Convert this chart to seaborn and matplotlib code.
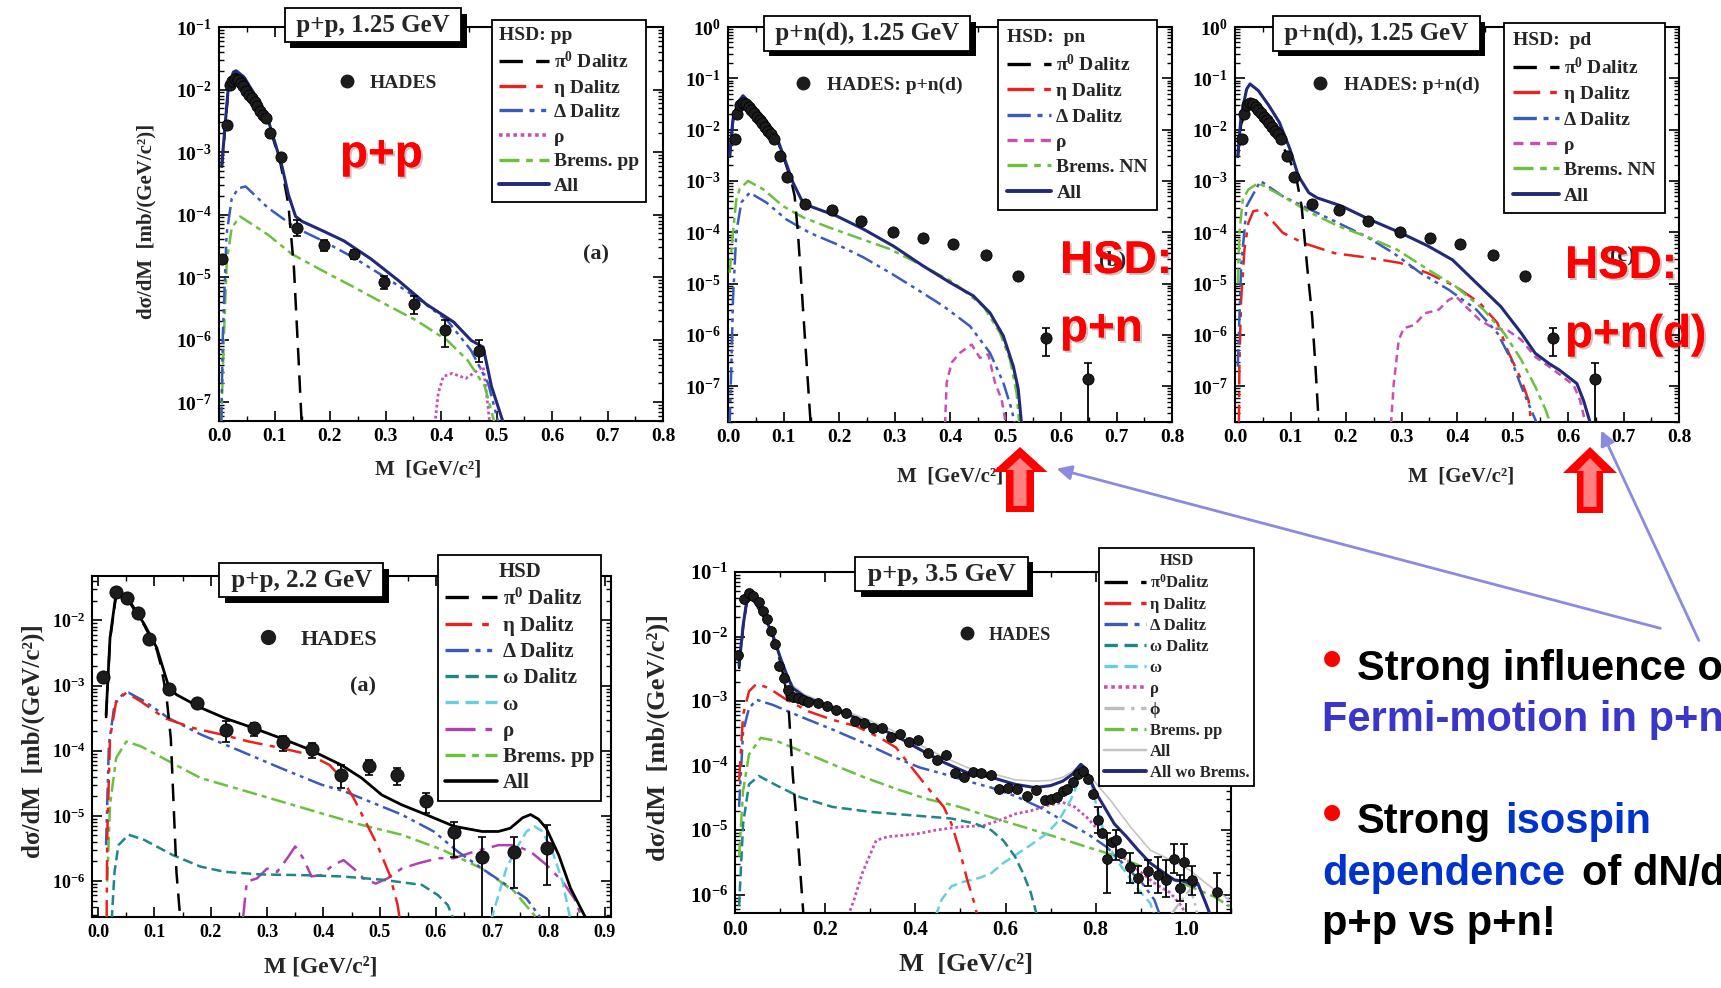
import numpy as np
import matplotlib
matplotlib.use("Agg")
import matplotlib.pyplot as plt
import matplotlib.patheffects as pe
from matplotlib.lines import Line2D
from matplotlib.patches import Polygon, FancyArrowPatch
from matplotlib.ticker import MultipleLocator, LogLocator, NullFormatter, FormatStrFormatter
import seaborn as sns

# ---------------- data (x in GeV/c^2, y given as log10 of dsigma/dM) ----------------
# Panel 1: p+p 1.25 GeV
p1_data_x = [0.006, 0.0136, 0.019, 0.024, 0.029, 0.034, 0.039, 0.044, 0.049, 0.054, 0.059, 0.064, 0.069,
             0.074, 0.079, 0.085, 0.091, 0.111, 0.141, 0.189, 0.243, 0.298, 0.352, 0.407, 0.468]
p1_data_ly = [-4.71, -2.56, -1.92, -1.86, -1.83, -1.85, -1.90, -1.95, -2.02, -2.08, -2.14, -2.20, -2.27,
              -2.34, -2.40, -2.46, -2.70, -3.08, -4.21, -4.48, -4.63, -5.08, -5.43, -5.85, -6.18]
p1_err_x = [0.141, 0.189, 0.243, 0.298, 0.352, 0.407, 0.468]
p1_err_lo = [-4.34, -4.58, -4.71, -5.19, -5.59, -6.12, -6.35]
p1_err_hi = [-4.08, -4.40, -4.56, -4.98, -5.30, -5.69, -6.01]
p1_all_x = [0.005, 0.011, 0.017, 0.026, 0.031, 0.045, 0.069, 0.088, 0.113, 0.125, 0.138, 0.150, 0.187, 0.225,
            0.274, 0.324, 0.373, 0.423, 0.454, 0.476, 0.491, 0.513]
p1_all_ly = [-3.21, -2.57, -1.94, -1.72, -1.70, -1.80, -2.15, -2.47, -3.21, -3.68, -4.03, -4.11, -4.26, -4.42,
             -4.71, -5.06, -5.43, -5.72, -6.01, -6.12, -6.75, -7.35]
p1_pi0_x = [0.005, 0.011, 0.017, 0.026, 0.031, 0.045, 0.069, 0.088, 0.110, 0.118, 0.125, 0.135, 0.144, 0.149]
p1_pi0_ly = [-3.25, -2.62, -1.98, -1.76, -1.74, -1.84, -2.19, -2.51, -3.15, -3.50, -3.84, -4.85, -6.43, -7.35]
p1_delta_x = [0.004, 0.007, 0.0136, 0.023, 0.035, 0.048, 0.088, 0.138, 0.187, 0.243, 0.299, 0.355, 0.411,
              0.454, 0.485, 0.504]
p1_delta_ly = [-7.35, -5.90, -4.32, -3.74, -3.58, -3.55, -3.89, -4.21, -4.42, -4.69, -5.00, -5.32, -5.69,
               -6.17, -6.70, -7.35]
p1_brems_x = [0.004, 0.009, 0.014, 0.023, 0.038, 0.088, 0.131, 0.187, 0.243, 0.299, 0.355, 0.411, 0.448,
              0.479, 0.497]
p1_brems_ly = [-7.35, -5.90, -4.74, -4.21, -4.03, -4.32, -4.63, -4.90, -5.16, -5.43, -5.69, -6.01, -6.33,
               -6.75, -7.35]
p1_rho_x = [0.389, 0.395, 0.404, 0.420, 0.445, 0.466, 0.476, 0.482, 0.488]
p1_rho_ly = [-7.35, -6.86, -6.59, -6.54, -6.62, -6.49, -6.43, -6.86, -7.35]

# Panels 2 and 3: p+n(d) 1.25 GeV (same HADES data)
pn_data_x = [0.012, 0.017, 0.022, 0.027, 0.032, 0.037, 0.042, 0.047, 0.052, 0.057, 0.062, 0.067, 0.072,
             0.077, 0.083, 0.093, 0.107, 0.139, 0.187, 0.240, 0.297, 0.352, 0.406, 0.465, 0.523, 0.573, 0.648]
pn_data_ly = [-2.18, -1.70, -1.52, -1.48, -1.50, -1.55, -1.61, -1.68, -1.75, -1.82, -1.88, -1.95, -2.02,
              -2.09, -2.18, -2.51, -2.93, -3.45, -3.56, -3.78, -3.99, -4.12, -4.22, -4.44, -4.85, -6.06, -6.86]
pn_err_x = [0.573, 0.648]
pn_err_lo = [-6.41, -7.80]
pn_err_hi = [-5.86, -6.54]

p2_all_x = [0.003, 0.009, 0.018, 0.027, 0.045, 0.069, 0.087, 0.102, 0.117, 0.132, 0.147, 0.195, 0.244, 0.298,
            0.352, 0.400, 0.442, 0.472, 0.496, 0.514, 0.523, 0.529]
p2_all_ly = [-2.51, -1.79, -1.47, -1.34, -1.53, -1.83, -2.12, -2.57, -3.03, -3.36, -3.49, -3.68, -3.94, -4.27,
             -4.66, -4.98, -5.24, -5.57, -6.02, -6.61, -7.06, -7.75]
p2_pi0_x = [0.003, 0.009, 0.018, 0.027, 0.045, 0.069, 0.087, 0.102, 0.114, 0.120, 0.126, 0.132, 0.138, 0.144, 0.149]
p2_pi0_ly = [-2.55, -1.83, -1.50, -1.37, -1.56, -1.86, -2.15, -2.60, -3.00, -3.29, -4.01, -4.98, -5.96, -6.93, -7.75]
p2_brems_x = [0.003, 0.009, 0.015, 0.021, 0.036, 0.063, 0.099, 0.135, 0.183, 0.232, 0.292, 0.352, 0.406, 0.460,
              0.490, 0.508, 0.520, 0.525]
p2_brems_ly = [-4.79, -4.00, -3.36, -3.16, -3.00, -3.16, -3.49, -3.71, -3.91, -4.10, -4.33, -4.66, -4.98, -5.44,
               -5.96, -6.48, -7.13, -7.75]
p2_delta_x = [0.003, 0.006, 0.009, 0.015, 0.024, 0.039, 0.069, 0.105, 0.147, 0.195, 0.244, 0.292, 0.340, 0.388,
              0.436, 0.472, 0.496, 0.511, 0.517]
p2_delta_ly = [-7.75, -6.61, -5.31, -4.00, -3.42, -3.23, -3.42, -3.75, -4.01, -4.23, -4.49, -4.79, -5.11, -5.44,
               -5.83, -6.35, -6.93, -7.45, -7.75]
p2_rho_x = [0.391, 0.394, 0.403, 0.418, 0.439, 0.454, 0.469, 0.481, 0.493, 0.501]
p2_rho_ly = [-7.75, -6.93, -6.54, -6.35, -6.19, -6.45, -6.38, -6.93, -7.26, -7.75]

p3_all_x = [0.005, 0.011, 0.021, 0.027, 0.042, 0.061, 0.080, 0.099, 0.114, 0.133, 0.148, 0.192, 0.242, 0.298,
            0.348, 0.392, 0.435, 0.479, 0.516, 0.541, 0.566, 0.585, 0.616, 0.628, 0.641]
p3_all_ly = [-2.51, -1.73, -1.21, -1.11, -1.24, -1.53, -1.86, -2.38, -2.90, -3.23, -3.33, -3.49, -3.75, -4.01,
             -4.27, -4.54, -4.99, -5.45, -5.97, -6.36, -6.56, -6.69, -6.95, -7.28, -7.75]
p3_pi0_x = [0.005, 0.011, 0.021, 0.027, 0.042, 0.061, 0.080, 0.099, 0.111, 0.120, 0.130, 0.139, 0.145, 0.151]
p3_pi0_ly = [-2.55, -1.90, -1.60, -1.55, -1.65, -1.88, -2.20, -2.60, -2.97, -3.49, -4.67, -5.64, -6.62, -7.75]
p3_eta_x = [0.007, 0.008, 0.011, 0.017, 0.024, 0.033, 0.049, 0.086, 0.123, 0.180, 0.242, 0.298, 0.348, 0.398,
            0.441, 0.473, 0.491, 0.516, 0.529, 0.534]
p3_eta_ly = [-7.75, -6.50, -5.32, -4.34, -3.82, -3.59, -3.56, -4.01, -4.21, -4.41, -4.50, -4.60, -4.80, -5.06,
             -5.38, -5.77, -6.30, -6.88, -7.28, -7.75]
p3_delta_x = [0.005, 0.011, 0.021, 0.046, 0.086, 0.136, 0.186, 0.236, 0.286, 0.335, 0.385, 0.435, 0.473, 0.498,
              0.516, 0.529, 0.545]
p3_delta_ly = [-6.62, -4.67, -3.49, -3.00, -3.30, -3.56, -3.82, -4.08, -4.41, -4.80, -5.12, -5.51, -5.97, -6.49,
               -7.01, -7.35, -7.75]
p3_brems_x = [0.005, 0.008, 0.014, 0.024, 0.042, 0.086, 0.136, 0.186, 0.236, 0.292, 0.348, 0.398, 0.448, 0.485,
              0.516, 0.541, 0.560, 0.569]
p3_brems_ly = [-5.00, -4.01, -3.36, -3.17, -3.04, -3.30, -3.62, -3.88, -4.08, -4.34, -4.73, -5.06, -5.51, -5.97,
               -6.49, -7.01, -7.47, -7.75]
p3_rho_x = [0.281, 0.286, 0.295, 0.304, 0.323, 0.342, 0.367, 0.385, 0.398, 0.416, 0.441, 0.466, 0.491, 0.516,
            0.541, 0.566, 0.591, 0.610, 0.622, 0.632]
p3_rho_ly = [-7.75, -6.95, -6.10, -5.87, -5.81, -5.58, -5.51, -5.32, -5.25, -5.45, -5.71, -5.87, -5.91, -6.10,
             -6.43, -6.62, -6.82, -6.98, -7.28, -7.75]

# Panel 4: p+p 2.2 GeV
p4_data_x = [0.009, 0.031, 0.052, 0.070, 0.091, 0.126, 0.176, 0.227, 0.277, 0.329, 0.379, 0.431, 0.481, 0.531,
             0.582, 0.632, 0.682, 0.738, 0.798]
p4_data_ly = [-2.87, -1.56, -1.65, -1.88, -2.28, -3.06, -3.27, -3.69, -3.65, -3.87, -3.97, -4.37, -4.24, -4.38,
              -4.78, -5.25, -5.63, -5.55, -5.50]
p4_err_x = [0.227, 0.277, 0.329, 0.379, 0.431, 0.481, 0.531, 0.582, 0.632, 0.682, 0.738, 0.798]
p4_err_lo = [-3.86, -3.78, -4.01, -4.11, -4.57, -4.37, -4.52, -4.96, -5.63, -6.60, -6.11, -6.06]
p4_err_hi = [-3.55, -3.57, -3.78, -3.88, -4.22, -4.14, -4.27, -4.65, -5.09, -5.32, -5.32, -5.14]
p4_all_x = [0.014, 0.021, 0.032, 0.054, 0.082, 0.104, 0.125, 0.139, 0.182, 0.225, 0.275, 0.325, 0.375, 0.432,
            0.468, 0.504, 0.539, 0.582, 0.632, 0.682, 0.711, 0.732, 0.754, 0.768, 0.782, 0.796, 0.818, 0.839, 0.868]
p4_all_ly = [-3.45, -2.27, -1.57, -1.68, -2.06, -2.42, -3.01, -3.14, -3.34, -3.50, -3.65, -3.81, -3.98, -4.22,
             -4.42, -4.68, -4.83, -4.98, -5.16, -5.24, -5.24, -5.19, -5.03, -4.98, -5.05, -5.19, -5.60, -6.11, -6.60]
p4_pi0_x = [0.014, 0.021, 0.032, 0.054, 0.082, 0.104, 0.111, 0.121, 0.129, 0.134, 0.139, 0.146]
p4_pi0_ly = [-3.50, -2.30, -1.60, -1.70, -2.08, -2.45, -2.68, -3.14, -3.81, -4.83, -5.86, -6.60]
p4_eta_x = [0.015, 0.016, 0.021, 0.032, 0.050, 0.075, 0.118, 0.168, 0.218, 0.268, 0.325, 0.375, 0.411, 0.432,
            0.454, 0.475, 0.496, 0.518, 0.532, 0.536]
p4_eta_ly = [-6.60, -5.34, -3.81, -3.24, -3.11, -3.24, -3.50, -3.65, -3.75, -3.86, -3.96, -4.06, -4.22, -4.42,
             -4.73, -5.09, -5.45, -5.91, -6.37, -6.60]
p4_delta_x = [0.014, 0.019, 0.029, 0.043, 0.054, 0.082, 0.125, 0.182, 0.254, 0.325, 0.396, 0.439, 0.482, 0.539,
              0.596, 0.639, 0.682, 0.725, 0.761, 0.789]
p4_delta_ly = [-5.45, -3.91, -3.29, -3.14, -3.11, -3.24, -3.50, -3.75, -4.01, -4.27, -4.52, -4.63, -4.78, -4.98,
               -5.24, -5.55, -5.81, -6.06, -6.27, -6.60]
p4_brems_x = [0.016, 0.021, 0.032, 0.050, 0.075, 0.125, 0.182, 0.254, 0.325, 0.396, 0.468, 0.539, 0.611, 0.682,
              0.739, 0.782]
p4_brems_ly = [-6.01, -4.83, -4.11, -3.86, -3.93, -4.16, -4.42, -4.60, -4.78, -4.96, -5.14, -5.29, -5.52, -5.81,
               -6.16, -6.60]
p4_omegad_x = [0.024, 0.029, 0.036, 0.054, 0.082, 0.132, 0.182, 0.225, 0.289, 0.361, 0.432, 0.504, 0.575, 0.604,
               0.621, 0.632]
p4_omegad_ly = [-6.60, -5.86, -5.45, -5.29, -5.37, -5.60, -5.78, -5.86, -5.90, -5.91, -5.93, -5.98, -6.06, -6.22,
                -6.37, -6.60]
p4_omega_x = [0.698, 0.711, 0.725, 0.743, 0.761, 0.775, 0.789, 0.807, 0.825, 0.839]
p4_omega_ly = [-6.60, -6.22, -5.81, -5.50, -5.24, -5.16, -5.24, -5.55, -6.01, -6.60]
p4_rho_x = [0.257, 0.264, 0.282, 0.300, 0.318, 0.336, 0.350, 0.364, 0.379, 0.396, 0.418, 0.436, 0.454, 0.471,
            0.493, 0.514, 0.539, 0.568, 0.604, 0.632, 0.668, 0.711, 0.739, 0.768, 0.796, 0.825, 0.846, 0.861]
p4_rho_ly = [-6.60, -6.01, -5.96, -5.81, -5.86, -5.65, -5.47, -5.65, -5.93, -5.91, -5.75, -5.68, -5.81, -5.96,
             -6.04, -5.96, -5.81, -5.73, -5.65, -5.65, -5.55, -5.45, -5.45, -5.55, -5.75, -6.01, -6.27, -6.60]

# Panel 5: p+p 3.5 GeV
p5_data_x = [0.006, 0.020, 0.031, 0.041, 0.053, 0.062, 0.070, 0.079, 0.088, 0.097, 0.108, 0.117, 0.128, 0.139,
             0.150, 0.163, 0.185, 0.205, 0.225, 0.247, 0.267, 0.286, 0.307, 0.326, 0.346, 0.366, 0.386, 0.405,
             0.427, 0.448, 0.467, 0.487, 0.507, 0.527, 0.546, 0.567, 0.586, 0.606, 0.626, 0.648, 0.668, 0.687,
             0.700, 0.714, 0.727, 0.736, 0.749, 0.760, 0.771, 0.782, 0.793, 0.804, 0.815, 0.826, 0.837, 0.846,
             0.855, 0.875, 0.894, 0.916, 0.938, 0.956, 0.974, 0.987, 0.996, 1.013, 1.069]
p5_data_ly = [-2.28, -1.42, -1.32, -1.37, -1.47, -1.60, -1.73, -1.92, -2.11, -2.45, -2.65, -2.83, -2.93, -2.96,
              -2.98, -3.01, -3.03, -3.08, -3.14, -3.19, -3.31, -3.34, -3.42, -3.42, -3.56, -3.51, -3.64, -3.60,
              -3.80, -3.92, -3.83, -4.11, -4.18, -4.10, -4.12, -4.15, -4.36, -4.34, -4.36, -4.47, -4.38, -4.54,
              -4.52, -4.49, -4.39, -4.36, -4.26, -4.13, -4.08, -4.21, -4.44, -4.85, -5.05, -5.44, -5.18, -5.16,
              -5.36, -5.57, -5.74, -5.64, -5.69, -5.77, -5.44, -5.90, -5.49, -5.77, -5.96]
p5_err_x = [0.804, 0.826, 0.846, 0.875, 0.894, 0.916, 0.938, 0.956, 0.974, 0.987, 0.996, 1.013, 1.069]
p5_err_lo = [-5.05, -5.97, -5.46, -5.82, -5.97, -5.87, -5.97, -6.03, -5.67, -6.10, -5.77, -6.00, -6.28]
p5_err_hi = [-4.64, -5.05, -5.00, -5.36, -5.56, -5.46, -5.41, -5.46, -5.21, -5.70, -5.21, -5.55, -5.67]
p5_allwo_x = [0.009, 0.018, 0.026, 0.035, 0.048, 0.066, 0.084, 0.101, 0.115, 0.128, 0.154, 0.198, 0.251, 0.304,
              0.357, 0.410, 0.463, 0.515, 0.568, 0.621, 0.665, 0.700, 0.727, 0.749, 0.767, 0.775, 0.789, 0.802,
              0.819, 0.841, 0.868, 0.894, 0.921, 0.947, 0.974, 1.000, 1.018, 1.026, 1.044, 1.055]
p5_allwo_ly = [-2.45, -1.83, -1.45, -1.40, -1.50, -1.70, -1.98, -2.34, -2.60, -2.80, -2.93, -3.06, -3.21, -3.37,
               -3.54, -3.75, -3.95, -4.11, -4.18, -4.29, -4.34, -4.31, -4.24, -4.13, -3.98, -4.03, -4.24, -4.44,
               -4.64, -4.90, -5.10, -5.31, -5.51, -5.64, -5.77, -5.80, -5.87, -5.82, -6.13, -6.33]
p5_allg_x = [0.009, 0.018, 0.026, 0.035, 0.048, 0.066, 0.084, 0.101, 0.115, 0.128, 0.154, 0.198, 0.251, 0.304,
             0.357, 0.410, 0.463, 0.515, 0.568, 0.621, 0.665, 0.700, 0.727, 0.749, 0.767, 0.775, 0.789, 0.833,
             0.877, 0.921, 0.965, 1.009, 1.035, 1.062, 1.097]
p5_allg_ly = [-2.43, -1.81, -1.43, -1.38, -1.48, -1.68, -1.96, -2.31, -2.56, -2.76, -2.90, -3.02, -3.17, -3.32,
              -3.48, -3.68, -3.87, -4.03, -4.12, -4.22, -4.24, -4.23, -4.18, -4.09, -3.97, -4.01, -4.18, -4.54,
              -4.95, -5.31, -5.46, -5.62, -5.77, -5.92, -6.08]
p5_pi0_x = [0.009, 0.018, 0.026, 0.035, 0.048, 0.066, 0.084, 0.101, 0.110, 0.119, 0.128, 0.137, 0.145, 0.152]
p5_pi0_ly = [-2.50, -1.85, -1.47, -1.42, -1.52, -1.72, -2.00, -2.40, -2.70, -3.11, -4.13, -4.90, -5.67, -6.33]
p5_eta_x = [0.009, 0.018, 0.031, 0.048, 0.075, 0.110, 0.163, 0.216, 0.269, 0.322, 0.357, 0.392, 0.427, 0.463,
            0.480, 0.498, 0.515, 0.533, 0.537]
p5_eta_ly = [-4.24, -3.21, -2.85, -2.73, -2.80, -2.96, -3.16, -3.29, -3.39, -3.57, -3.72, -4.03, -4.34, -4.64,
             -4.90, -5.31, -5.77, -6.18, -6.33]
p5_delta_x = [0.009, 0.018, 0.031, 0.048, 0.084, 0.145, 0.216, 0.286, 0.357, 0.410, 0.463, 0.515, 0.568, 0.621,
              0.674, 0.727, 0.780, 0.824, 0.868, 0.903, 0.930, 0.943]
p5_delta_ly = [-4.64, -3.47, -3.11, -2.98, -3.06, -3.24, -3.44, -3.65, -3.88, -4.03, -4.13, -4.24, -4.34, -4.47,
               -4.64, -4.85, -5.05, -5.26, -5.57, -5.82, -6.08, -6.33]
p5_omegad_x = [0.009, 0.018, 0.031, 0.053, 0.093, 0.145, 0.216, 0.304, 0.392, 0.480, 0.533, 0.568, 0.595, 0.621,
               0.639, 0.656, 0.670]
p5_omegad_ly = [-6.18, -4.90, -4.29, -4.16, -4.31, -4.49, -4.64, -4.72, -4.77, -4.82, -4.90, -5.00, -5.16, -5.41,
                -5.67, -5.97, -6.33]
p5_omega_x = [0.445, 0.458, 0.480, 0.507, 0.542, 0.568, 0.595, 0.621, 0.656, 0.692, 0.718, 0.744, 0.762, 0.775,
              0.789, 0.802, 0.819, 0.841, 0.868, 0.894, 0.921, 0.930]
p5_omega_ly = [-6.33, -6.08, -5.87, -5.80, -5.74, -5.67, -5.51, -5.39, -5.23, -5.05, -4.85, -4.54, -4.24, -4.11,
               -4.24, -4.64, -5.05, -5.41, -5.67, -5.92, -6.13, -6.33]
p5_rho_x = [0.251, 0.264, 0.282, 0.313, 0.339, 0.374, 0.410, 0.445, 0.498, 0.551, 0.586, 0.621, 0.656, 0.692,
            0.727, 0.753, 0.780, 0.806, 0.833, 0.859, 0.894, 0.930, 0.965, 0.991, 1.000]
p5_rho_ly = [-6.33, -6.08, -5.67, -5.16, -5.10, -5.08, -5.05, -5.00, -4.95, -4.93, -4.85, -4.75, -4.70, -4.62,
             -4.57, -4.64, -4.80, -5.00, -5.21, -5.41, -5.62, -5.82, -5.97, -6.18, -6.33]
p5_phi_x = [0.965, 0.991, 1.009, 1.018, 1.026]
p5_phi_ly = [-6.33, -6.08, -5.92, -6.08, -6.33]
p5_brems_x = [0.009, 0.018, 0.031, 0.057, 0.093, 0.145, 0.216, 0.286, 0.357, 0.427, 0.498, 0.568, 0.639, 0.709,
              0.780, 0.850, 0.921, 0.991, 1.062, 1.097]
p5_brems_ly = [-5.41, -4.39, -3.83, -3.57, -3.62, -3.77, -3.98, -4.18, -4.36, -4.52, -4.64, -4.80, -4.95, -5.10,
               -5.26, -5.41, -5.62, -5.82, -6.03, -6.18]

# ---------------- styling ----------------
sns.set_theme(style="ticks")
plt.rcParams.update({
    "font.family": ["Liberation Serif", "DejaVu Serif"],
    "font.weight": "bold",
    "axes.labelweight": "bold",
    "mathtext.fontset": "custom",
    "mathtext.default": "regular",
    "axes.linewidth": 1.5,
    "axes.edgecolor": "black",
    "xtick.color": "black", "ytick.color": "black",
    "figure.facecolor": "white", "axes.facecolor": "white",
})

STY = {
    "pi0": dict(color="black", ls=(0, (7, 4)), lw=1.8),
    "eta": dict(color="#e8231f", ls=(0, (8, 3, 2, 3)), lw=1.8),
    "delta": dict(color="#3a5cb8", ls=(0, (7, 2, 1.5, 2, 1.5, 2)), lw=1.8),
    "rho_dot": dict(color="#c850b4", ls=(0, (1, 1)), lw=2.0),
    "rho_dash": dict(color="#c850b4", ls=(0, (3, 2)), lw=1.8),
    "rho_dd": dict(color="#b040b0", ls=(0, (9, 3, 2, 3)), lw=1.8),
    "brems": dict(color="#6cc040", ls=(0, (6, 2, 2, 2)), lw=1.8),
    "all_navy": dict(color="#222a78", ls="-", lw=2.2),
    "all_black": dict(color="black", ls="-", lw=2.0),
    "omegad": dict(color="#1f8585", ls=(0, (4, 2)), lw=1.8),
    "omega": dict(color="#66cfe0", ls=(0, (4, 2)), lw=1.8),
    "phi": dict(color="#bdbdbd", ls=(0, (6, 2, 1, 2)), lw=1.8),
    "all_gray": dict(color="#c4c4c4", ls="-", lw=1.2),
}

W, H = 1721, 988
fig = plt.figure(figsize=(W / 100, H / 100), dpi=100)


def FX(px):
    return px / W


def FY(py):
    return 1 - py / H


def add_ax(l, t, r, b):
    return fig.add_axes([l / W, 1 - b / H, (r - l) / W, (b - t) / H])


def curve(ax, x, ly, key):
    st = STY[key]
    sns.lineplot(x=np.array(x), y=10.0 ** np.array(ly), ax=ax, color=st["color"], linestyle=st["ls"],
                 linewidth=st["lw"], legend=False, sort=False, estimator=None, zorder=3)


def hades(ax, x, ly, ex, elo, ehi, s):
    elo = np.array(elo); ehi = np.array(ehi)
    ym = 10.0 ** ((elo + ehi) / 2)
    ax.errorbar(ex, ym, yerr=[ym - 10.0 ** elo, 10.0 ** ehi - ym], fmt="none", ecolor="black",
                elinewidth=1.3, capsize=3, capthick=1.2, zorder=4)
    sns.scatterplot(x=np.array(x), y=10.0 ** np.array(ly), ax=ax, color="#1c1c1c", edgecolor="#000000",
                    s=s, linewidth=0.6, legend=False, zorder=5)


def setup(ax, xlim, ylim, xmaj, xmin, fs):
    ax.set_yscale("log")
    ax.set_xlim(*xlim)
    ax.set_ylim(*ylim)
    ax.xaxis.set_major_locator(MultipleLocator(xmaj))
    ax.xaxis.set_minor_locator(MultipleLocator(xmin))
    ax.xaxis.set_major_formatter(FormatStrFormatter("%.1f"))
    ax.yaxis.set_major_locator(LogLocator(10, numticks=20))
    ax.yaxis.set_minor_locator(LogLocator(10, subs=np.arange(2, 10) * 1.0, numticks=20))
    ax.yaxis.set_minor_formatter(NullFormatter())
    ax.tick_params(which="both", direction="in", top=True, right=True, labelsize=fs, pad=5)
    ax.tick_params(which="major", length=7, width=1.2)
    ax.tick_params(which="minor", length=3.5, width=1.0)
    for s in ax.spines.values():
        s.set_linewidth(1.5)
    ax.set_xlabel("")
    ax.set_ylabel("")


def title_box(ax, cx, cy, s, fs):
    t = ax.text(cx, cy, " " + s + " ", transform=ax.transAxes, ha="center", va="center", fontsize=fs,
                zorder=10, bbox=dict(boxstyle="square,pad=0.22", fc="white", ec="black", lw=1.3))
    t.get_bbox_patch().set_path_effects([pe.withSimplePatchShadow(offset=(4, -4), shadow_rgbFace="black",
                                                                  alpha=1.0)])


def hsd_legend(ax, entries, title, px, py, fs, lsp, hl, align, bpad=0.35):
    handles = [Line2D([], [], color=STY[k]["color"], linestyle=STY[k]["ls"], linewidth=STY[k]["lw"] + 0.6)
               for k, _ in entries]
    labels = [lab for _, lab in entries]
    prop = dict(family="Liberation Serif", weight="bold", size=fs)
    leg = ax.legend(handles, labels, title=title, loc="upper left", bbox_to_anchor=(FX(px), FY(py)),
                    bbox_transform=fig.transFigure, frameon=True, fancybox=False, edgecolor="black",
                    framealpha=1.0, borderpad=bpad, labelspacing=lsp, handlelength=hl, handletextpad=0.25,
                    borderaxespad=0, prop=prop, title_fontproperties=prop, alignment=align)
    leg.get_frame().set_linewidth(1.3)
    leg.set_zorder(8)
    ax.add_artist(leg)
    return leg


def hades_label(ax, text, px, py, fs, ms, htp):
    h = Line2D([], [], marker="o", ls="none", color="#1c1c1c", markersize=ms)
    prop = dict(family="Liberation Serif", weight="bold", size=fs)
    leg = ax.legend([h], [text], loc="center left", bbox_to_anchor=(FX(px), FY(py)),
                    bbox_transform=fig.transFigure, frameon=False, borderpad=0, borderaxespad=0,
                    handlelength=1.0, handletextpad=htp, prop=prop)
    leg.set_zorder(8)


ylab = "dσ/dM  [mb/(GeV/c²)]"
xlab = "M  [GeV/c²]"

# ---------------- Panel 1 ----------------
ax1 = add_ax(219, 27, 663, 421)
setup(ax1, (0, 0.8), (5e-8, 1e-1), 0.1, 0.05, 14)
curve(ax1, p1_rho_x, p1_rho_ly, "rho_dot")
curve(ax1, p1_brems_x, p1_brems_ly, "brems")
curve(ax1, p1_delta_x, p1_delta_ly, "delta")
curve(ax1, p1_pi0_x, p1_pi0_ly, "pi0")
curve(ax1, p1_all_x, p1_all_ly, "all_navy")
hades(ax1, p1_data_x, p1_data_ly, p1_err_x, p1_err_lo, p1_err_hi, 65)
hsd_legend(ax1, [("pi0", "π$^{0}$ Dalitz"), ("eta", "η Dalitz"), ("delta", "Δ Dalitz"), ("rho_dot", "ρ"),
                 ("brems", "Brems. pp"), ("all_navy", "All")], "HSD: pp", 492, 20, 14, 0.36, 2.6, "left")
hades_label(ax1, "HADES", 337, 83, 14, 9, 0.7)
title_box(ax1, 0.347, 1.004, "p+p, 1.25 GeV", 18)
ax1.text(0.85, 0.423, "(a)", transform=ax1.transAxes, ha="center", va="center", fontsize=16)
ax1.set_ylabel(ylab, fontsize=15)
ax1.set_xlabel(xlab, fontsize=15)

# ---------------- Panel 2 ----------------
ax2 = add_ax(728, 27, 1172, 422)
setup(ax2, (0, 0.8), (2e-8, 1.0), 0.1, 0.05, 14)
curve(ax2, p2_rho_x, p2_rho_ly, "rho_dash")
curve(ax2, p2_delta_x, p2_delta_ly, "delta")
curve(ax2, p2_brems_x, p2_brems_ly, "brems")
curve(ax2, p2_pi0_x, p2_pi0_ly, "pi0")
curve(ax2, p2_all_x, p2_all_ly, "all_navy")
hades(ax2, pn_data_x, pn_data_ly, pn_err_x, pn_err_lo, pn_err_hi, 65)
hsd_legend(ax2, [("pi0", "π$^{0}$ Dalitz"), ("eta", "η Dalitz"), ("delta", "Δ Dalitz"), ("rho_dash", "ρ"),
                 ("brems", "Brems. NN"), ("all_navy", "All")], "HSD:  pn", 998, 20, 14, 0.4, 2.3, "left", 0.45)
hades_label(ax2, "HADES: p+n(d)", 793, 85, 14, 9, 0.75)
title_box(ax2, 0.313, 0.984, "p+n(d), 1.25 GeV", 18)
ax2.text(0.867, 0.41, "(b)", transform=ax2.transAxes, ha="center", va="center", fontsize=16)
ax2.set_xlabel(xlab, fontsize=15)

# ---------------- Panel 3 ----------------
ax3 = add_ax(1235, 27, 1679, 422)
setup(ax3, (0, 0.8), (2e-8, 1.0), 0.1, 0.05, 14)
curve(ax3, p3_rho_x, p3_rho_ly, "rho_dash")
curve(ax3, p3_eta_x, p3_eta_ly, "eta")
curve(ax3, p3_delta_x, p3_delta_ly, "delta")
curve(ax3, p3_brems_x, p3_brems_ly, "brems")
curve(ax3, p3_pi0_x, p3_pi0_ly, "pi0")
curve(ax3, p3_all_x, p3_all_ly, "all_navy")
hades(ax3, pn_data_x, pn_data_ly, pn_err_x, pn_err_lo, pn_err_hi, 65)
hsd_legend(ax3, [("pi0", "π$^{0}$ Dalitz"), ("eta", "η Dalitz"), ("delta", "Δ Dalitz"), ("rho_dash", "ρ"),
                 ("brems", "Brems. NN"), ("all_navy", "All")], "HSD:  pd", 1504, 23, 14, 0.4, 2.4, "left", 0.45)
hades_label(ax3, "HADES: p+n(d)", 1310, 85, 14, 9, 0.75)
title_box(ax3, 0.318, 0.984, "p+n(d), 1.25 GeV", 18)
ax3.text(0.872, 0.418, "(c)", transform=ax3.transAxes, ha="center", va="center", fontsize=16)
ax3.set_xlabel(xlab, fontsize=15)

# ---------------- Panel 4 ----------------
ax4 = add_ax(92, 576, 611, 917)
setup(ax4, (-0.011, 0.911), (2.8e-7, 4.8e-2), 0.1, 0.05, 13)
curve(ax4, p4_rho_x, p4_rho_ly, "rho_dd")
curve(ax4, p4_omega_x, p4_omega_ly, "omega")
curve(ax4, p4_omegad_x, p4_omegad_ly, "omegad")
curve(ax4, p4_brems_x, p4_brems_ly, "brems")
curve(ax4, p4_delta_x, p4_delta_ly, "delta")
curve(ax4, p4_eta_x, p4_eta_ly, "eta")
curve(ax4, p4_pi0_x, p4_pi0_ly, "pi0")
curve(ax4, p4_all_x, p4_all_ly, "all_black")
hades(ax4, p4_data_x, p4_data_ly, p4_err_x, p4_err_lo, p4_err_hi, 90)
hsd_legend(ax4, [("pi0", "π$^{0}$ Dalitz"), ("eta", "η Dalitz"), ("delta", "Δ Dalitz"), ("omegad", "ω Dalitz"),
                 ("omega", "ω"), ("rho_dd", "ρ"), ("brems", "Brems. pp"), ("all_black", "All")],
           "HSD", 438, 555, 15, 0.3, 2.5, "center")
hades_label(ax4, "HADES", 257, 640, 16, 10, 0.98)
title_box(ax4, 0.403, 0.987, "p+p, 2.2 GeV", 18)
ax4.text(0.522, 0.677, "(a)", transform=ax4.transAxes, ha="center", va="center", fontsize=16)
ax4.set_ylabel(ylab, fontsize=18)
ax4.set_xlabel("M [GeV/c²]", fontsize=17)

# ---------------- Panel 5 ----------------
ax5 = add_ax(735, 572, 1231, 913)
setup(ax5, (0, 1.1), (5.2e-7, 0.1), 0.2, 0.1, 15)
curve(ax5, p5_brems_x, p5_brems_ly, "brems")
curve(ax5, p5_rho_x, p5_rho_ly, "rho_dot")
curve(ax5, p5_phi_x, p5_phi_ly, "phi")
curve(ax5, p5_omega_x, p5_omega_ly, "omega")
curve(ax5, p5_omegad_x, p5_omegad_ly, "omegad")
curve(ax5, p5_delta_x, p5_delta_ly, "delta")
curve(ax5, p5_eta_x, p5_eta_ly, "eta")
curve(ax5, p5_pi0_x, p5_pi0_ly, "pi0")
curve(ax5, p5_allg_x, p5_allg_ly, "all_gray")
curve(ax5, p5_allwo_x, p5_allwo_ly, "all_navy")
hades(ax5, p5_data_x, p5_data_ly, p5_err_x, p5_err_lo, p5_err_hi, 50)
hsd_legend(ax5, [("pi0", "π$^{0}$Dalitz"), ("eta", "η Dalitz"), ("delta", "Δ Dalitz"), ("omegad", "ω Dalitz"),
                 ("omega", "ω"), ("rho_dot", "ρ"), ("phi", "ϕ"), ("brems", "Brems. pp"),
                 ("all_gray", "All"), ("all_navy", "All wo Brems.")],
           "HSD", 1099, 548, 12, 0.3, 2.5, "center", 0.3)
hades_label(ax5, "HADES", 958, 635, 13, 9, 0.72)
title_box(ax5, 0.4165, 0.994, "p+p, 3.5 GeV", 19)
ax5.set_ylabel(ylab, fontsize=19)
ax5.set_xlabel(xlab, fontsize=19)

# label positions
for ax, lx, ly_ in [(ax1, 0.47, -0.122), (ax2, 0.5, -0.139), (ax3, 0.51, -0.139), (ax4, 0.441, -0.147),
                    (ax5, 0.466, -0.152)]:
    ax.xaxis.set_label_coords(lx, ly_)
    ax.xaxis.label.set_va("center")
for ax, lx, ly_ in [(ax1, -0.164, 0.506), (ax4, -0.113, 0.516), (ax5, -0.155, 0.516)]:
    ax.yaxis.set_label_coords(lx, ly_)
    ax.yaxis.label.set_va("center")

# ---------------- slide annotations ----------------
red_kw = dict(family=["Liberation Sans", "DejaVu Sans"], weight="bold", color="#ff0000", fontsize=33,
              va="baseline", ha="left", zorder=20,
              path_effects=[pe.withSimplePatchShadow(offset=(1.5, -1.5), alpha=0.25), pe.Normal()])
fig.text(FX(340), FY(167), "p+p", **red_kw)
fig.text(FX(1060), FY(273), "HSD:", **red_kw)
fig.text(FX(1060), FY(341), "p+n", **red_kw)
fig.text(FX(1565), FY(278), "HSD:", **red_kw)
fig.text(FX(1565), FY(347), "p+n(d)", **red_kw)


def up_arrow(cx, tip, hb, hw, sw, bottom, color, z):
    pts = [(cx, tip), (cx + hw, hb), (cx + sw, hb), (cx + sw, bottom), (cx - sw, bottom), (cx - sw, hb),
           (cx - hw, hb)]
    poly = Polygon([(FX(a), FY(b)) for a, b in pts], closed=True, transform=fig.transFigure,
                   facecolor=color, edgecolor="none", zorder=z)
    fig.add_artist(poly)


up_arrow(1020, 447, 472, 27.5, 14, 512, "#ff0000", 21)
up_arrow(1020, 458, 470, 13, 6.5, 506, "#ff8080", 22)
up_arrow(1590, 447, 473, 27, 13, 513, "#ff0000", 21)
up_arrow(1590, 458, 471, 12.5, 6.5, 507, "#ff8080", 22)

for (xa, ya), (xb, yb) in [((1663, 629), (1054, 468)), ((1700, 643), (1600, 428))]:
    arr = FancyArrowPatch((FX(xa), FY(ya)), (FX(xb), FY(yb)), transform=fig.transFigure,
                          arrowstyle="-|>", mutation_scale=22, color="#8a8ae0", lw=2.0, zorder=19)
    fig.add_artist(arr)

bkw = dict(family=["Liberation Sans", "DejaVu Sans"], weight="bold", fontsize=30, va="baseline",
           ha="left", zorder=20)
fig.text(FX(1332), FY(658), "●", color="#ff0000", fontsize=15, family="DejaVu Sans", ha="center",
         va="center", zorder=20)
fig.text(FX(1357), FY(680), "Strong influence of", color="black", **bkw)
fig.text(FX(1322), FY(731), "Fermi-motion in p+n(d)", color="#3a36c9", **bkw)
fig.text(FX(1332), FY(812), "●", color="#ff0000", fontsize=15, family="DejaVu Sans", ha="center",
         va="center", zorder=20)
fig.text(FX(1357), FY(833), "Strong", color="black", **bkw)
fig.text(FX(1505), FY(833), "isospin", color="#0033cc", **bkw)
fig.text(FX(1322), FY(885), "dependence", color="#0033cc", **bkw)
fig.text(FX(1582), FY(885), "of dN/dM", color="black", **bkw)
fig.text(FX(1322), FY(935), "p+p vs p+n!", color="black", **bkw)

fig.savefig("out.png", dpi=100)
